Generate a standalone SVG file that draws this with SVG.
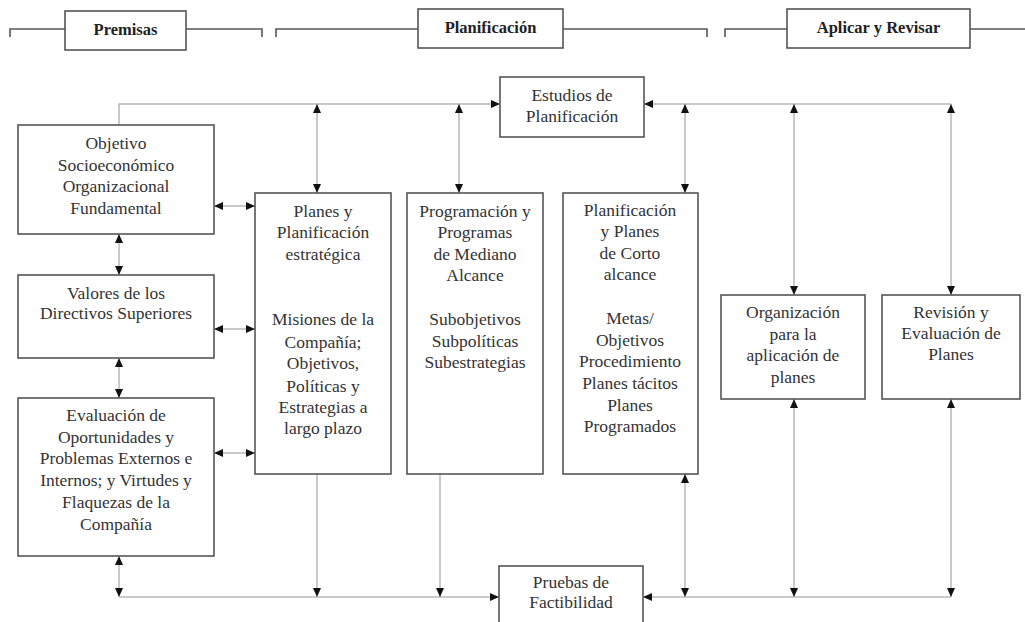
<svg xmlns="http://www.w3.org/2000/svg" width="1025" height="622" viewBox="0 0 1025 622">
<style>
.box{fill:#fff;stroke:#555;stroke-width:1.6}
.hdr{fill:none;stroke:#555;stroke-width:1.6}
.c{fill:none;stroke:#b8b8b8;stroke-width:1.5}
.t{font-family:"Liberation Serif","Noto Serif","DejaVu Serif",serif;font-size:17.5px;fill:#333;text-anchor:middle}
.h{font-weight:bold;font-size:16.5px;fill:#222}
</style>
<defs>
<marker id="a" markerUnits="userSpaceOnUse" markerWidth="10" markerHeight="8" refX="9" refY="4" orient="auto-start-reverse">
<path d="M0,0 L9,4 L0,8 Z" fill="#111"/>
</marker>
</defs>
<rect width="1025" height="622" fill="#fff"/>

<g id="headers">
<path class="hdr" d="M10 37 V29 H65 M186 29 H262 V37"/>
<path class="hdr" d="M276 37 V29 H418 M563 29 H707 V37"/>
<path class="hdr" d="M725 37 V29 H787 M970 29 H1025"/>
<g id="h-premisas"><rect class="box" x="65" y="11" width="121" height="39"/><text class="t h" x="125.5" y="35">Premisas</text></g>
<g id="h-planificacion"><rect class="box" x="418" y="9" width="145" height="39"/><text class="t h" x="490.5" y="33">Planificación</text></g>
<g id="h-aplicar"><rect class="box" x="787" y="9" width="183" height="39"/><text class="t h" x="878.5" y="33">Aplicar y Revisar</text></g>
</g>

<g id="connectors">
<path class="c" d="M119 125 V104 H500" marker-end="url(#a)"/>
<path class="c" d="M951 104 H644" marker-end="url(#a)"/>
<path class="c" d="M317 104 V193" marker-start="url(#a)" marker-end="url(#a)"/>
<path class="c" d="M459 104 V193" marker-start="url(#a)" marker-end="url(#a)"/>
<path class="c" d="M685 104 V193" marker-start="url(#a)" marker-end="url(#a)"/>
<path class="c" d="M794 104 V295" marker-start="url(#a)" marker-end="url(#a)"/>
<path class="c" d="M951 104 V295" marker-start="url(#a)" marker-end="url(#a)"/>
<path class="c" d="M214 206 H255" marker-start="url(#a)" marker-end="url(#a)"/>
<path class="c" d="M214 329 H255" marker-start="url(#a)" marker-end="url(#a)"/>
<path class="c" d="M214 453 H255" marker-start="url(#a)" marker-end="url(#a)"/>
<path class="c" d="M119 234 V275" marker-start="url(#a)" marker-end="url(#a)"/>
<path class="c" d="M119 358 V398" marker-start="url(#a)" marker-end="url(#a)"/>
<path class="c" d="M119 556 V597" marker-start="url(#a)" marker-end="url(#a)"/>
<path class="c" d="M119 597 H499" marker-end="url(#a)"/>
<path class="c" d="M317 474 V597" marker-end="url(#a)"/>
<path class="c" d="M440 474 V597" marker-end="url(#a)"/>
<path class="c" d="M951 597 H643" marker-end="url(#a)"/>
<path class="c" d="M685 474 V597" marker-start="url(#a)" marker-end="url(#a)"/>
<path class="c" d="M794 399 V597" marker-start="url(#a)" marker-end="url(#a)"/>
<path class="c" d="M951 399 V597" marker-start="url(#a)" marker-end="url(#a)"/>
</g>

<g id="objetivo" class="t">
<rect class="box" x="18" y="125" width="196" height="109"/>
<text x="116" y="149">Objetivo</text>
<text x="116" y="171">Socioeconómico</text>
<text x="116" y="192">Organizacional</text>
<text x="116" y="214">Fundamental</text>
</g>

<g id="valores" class="t">
<rect class="box" x="18" y="275" width="196" height="83"/>
<text x="116" y="299">Valores de los</text>
<text x="116" y="319">Directivos Superiores</text>
</g>

<g id="evaluacion" class="t">
<rect class="box" x="18" y="398" width="196" height="158"/>
<text x="116" y="421">Evaluación de</text>
<text x="116" y="443">Oportunidades y</text>
<text x="116" y="464">Problemas Externos e</text>
<text x="116" y="486">Internos; y Virtudes y</text>
<text x="116" y="508">Flaquezas de la</text>
<text x="116" y="530">Compañía</text>
</g>

<g id="estudios" class="t">
<rect class="box" x="500" y="77" width="144" height="60"/>
<text x="572" y="101">Estudios de</text>
<text x="572" y="122">Planificación</text>
</g>

<g id="estrategica" class="t">
<rect class="box" x="255" y="193" width="136" height="281"/>
<text x="323" y="217">Planes y</text>
<text x="323" y="238">Planificación</text>
<text x="323" y="260">estratégica</text>
<text x="323" y="325">Misiones de la</text>
<text x="323" y="348">Compañía;</text>
<text x="323" y="369">Objetivos,</text>
<text x="323" y="392">Políticas y</text>
<text x="323" y="413">Estrategias a</text>
<text x="323" y="434">largo plazo</text>
</g>

<g id="mediano" class="t">
<rect class="box" x="407" y="193" width="136" height="281"/>
<text x="475" y="217">Programación y</text>
<text x="475" y="238">Programas</text>
<text x="475" y="260">de Mediano</text>
<text x="475" y="281">Alcance</text>
<text x="475" y="325">Subobjetivos</text>
<text x="475" y="347">Subpolíticas</text>
<text x="475" y="368">Subestrategias</text>
</g>

<g id="corto" class="t">
<rect class="box" x="563" y="193" width="135" height="281"/>
<text x="630" y="216">Planificación</text>
<text x="630" y="237">y Planes</text>
<text x="630" y="259">de Corto</text>
<text x="630" y="280">alcance</text>
<text x="630" y="324">Metas/</text>
<text x="630" y="346">Objetivos</text>
<text x="630" y="367">Procedimiento</text>
<text x="630" y="389">Planes tácitos</text>
<text x="630" y="411">Planes</text>
<text x="630" y="432">Programados</text>
</g>

<g id="organizacion" class="t">
<rect class="box" x="721" y="295" width="144" height="104"/>
<text x="793" y="318">Organización</text>
<text x="793" y="340">para la</text>
<text x="793" y="361">aplicación de</text>
<text x="793" y="383">planes</text>
</g>

<g id="revision" class="t">
<rect class="box" x="882" y="295" width="138" height="104"/>
<text x="951" y="318">Revisión y</text>
<text x="951" y="339">Evaluación de</text>
<text x="951" y="360">Planes</text>
</g>

<g id="pruebas" class="t">
<rect class="box" x="499" y="566" width="144" height="70"/>
<text x="571" y="588">Pruebas de</text>
<text x="571" y="608">Factibilidad</text>
</g>
</svg>
